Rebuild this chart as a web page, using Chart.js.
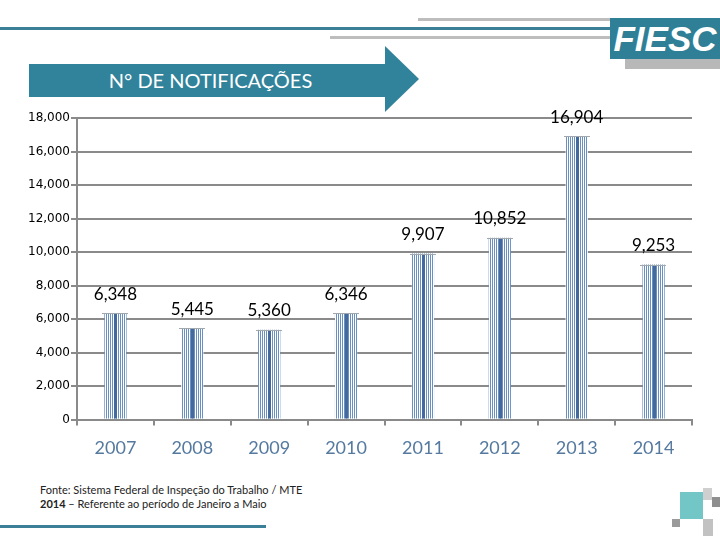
<!DOCTYPE html>
<html>
<head>
<meta charset="utf-8">
<script src="https://cdn.jsdelivr.net/npm/chart.js@4/dist/chart.umd.min.js"></script>
<style>
  body { margin: 0; width: 720px; height: 540px; position: relative; overflow: hidden; background: #fff; font-family: Lato, sans-serif; }
  .abs { position: absolute; }
  #chart { position: absolute; left: 0; top: 0; z-index: 2; }
  .arrow-body { left: 29px; top: 64px; width: 356px; height: 33px; background: #31839b; color: #fff; font-size: 20px; line-height: 33px; text-align: center; padding-left: 7px; box-sizing: border-box; }
  .arrow-head { left: 385px; top: 46px; width: 0; height: 0; border-top: 33.5px solid transparent; border-bottom: 33.5px solid transparent; border-left: 34px solid #31839b; }
  .logo { left: 610px; top: 18px; width: 110px; height: 41px; background: #2f7f97; color: #fff; font: italic bold 35px "Liberation Sans", Arial, sans-serif; line-height: 41px; text-align: center; z-index: 1; }
  .note { left: 40px; top: 483px; font-size: 11px; line-height: 14px; color: #222; }
</style>
</head>
<body>
<div class="abs" style="left:0;top:27px;width:612px;height:3px;background:#3b8096"></div>
<div class="abs" style="left:418px;top:18px;width:194px;height:3px;background:#bdbdbd"></div>
<div class="abs" style="left:330px;top:36px;width:282px;height:3px;background:#bdbdbd"></div>
<div class="abs" style="left:625px;top:59px;width:95px;height:10px;background:#b8b8b8"></div>
<div class="abs logo">FIESC</div>
<div class="abs arrow-body">N° DE NOTIFICAÇÕES</div>
<div class="abs arrow-head"></div>
<div class="abs note">Fonte: Sistema Federal de Inspeção do Trabalho / MTE<br><b>2014</b> – Referente ao período de Janeiro a Maio</div>
<div class="abs" style="left:0;top:525px;width:266px;height:3px;background:#3b8096"></div>
<div class="abs" style="left:680px;top:492px;width:23px;height:27px;background:#72c6c6"></div>
<div class="abs" style="left:672px;top:519px;width:8px;height:8px;background:#9a9a9a"></div>
<div class="abs" style="left:703px;top:488px;width:9px;height:12px;background:#cfcfcf"></div>
<div class="abs" style="left:712px;top:497px;width:8px;height:10px;background:#8f8f8f"></div>
<div class="abs" style="left:703px;top:519px;width:10px;height:17px;background:#c2c2c2"></div>
<canvas id="chart" width="720" height="540"></canvas>
<script>
const years = ['2007', '2008', '2009', '2010', '2011', '2012', '2013', '2014'];
const notificacoes = [6348, 5445, 5360, 6346, 9907, 10852, 16904, 9253];
const yTicks = [0, 2000, 4000, 6000, 8000, 10000, 12000, 14000, 16000, 18000];

const GRID = '#8a8a8a';

// thin vertical stripes like the original bar fill
function stripePattern() {
    const c = document.createElement('canvas');
    c.width = 2;
    c.height = 1;
    const g = c.getContext('2d');
    g.fillStyle = '#fff';
    g.fillRect(0, 0, 2, 1);
    g.fillStyle = '#6a90c0';
    g.fillRect(0, 0, 1, 1);
    return g.createPattern(c, 'repeat');
}

const barExtras = {
    id: 'barExtras',
    afterDatasetsDraw(chart) {
        const ctx = chart.ctx;
        chart.getDatasetMeta(0).data.forEach((bar, i) => {
            const top = Math.round(bar.y);
            const h = bar.base - top;
            const left = Math.round(bar.x - bar.width / 2);
            ctx.save();
            ctx.fillStyle = '#44699c';
            ctx.fillRect(Math.round(bar.x) - 1, top, 3, h);
            ctx.fillStyle = '#a2a8b0';
            ctx.fillRect(left - 2, top, Math.round(bar.width) + 4, 1);
            ctx.fillStyle = '#000';
            ctx.font = '17px Lato';
            ctx.textAlign = 'center';
            ctx.textBaseline = 'middle';
            ctx.fillText(notificacoes[i].toLocaleString('en-US'), bar.x, bar.y - 19);
            ctx.restore();
        });
    }
};

new Chart(document.getElementById('chart'), {
    type: 'bar',
    data: {
        labels: years,
        datasets: [{
            label: 'N° de notificações',
            data: notificacoes,
            backgroundColor: stripePattern(),
            borderWidth: 0,
            barPercentage: 0.29,
            categoryPercentage: 1,
        }],
    },
    options: {
        responsive: false,
        animation: false,
        layout: { padding: { top: 118, right: 28, left: 0, bottom: 0 } },
        plugins: {
            legend: { display: false },
            tooltip: { enabled: false },
        },
        scales: {
            x: {
                afterFit: (s) => { s.height = 120.5; },
                grid: { drawOnChartArea: false, offset: true, tickLength: 6, color: GRID, lineWidth: 2 },
                border: { color: GRID, width: 2 },
                ticks: { color: '#55799f', padding: 12, font: { family: 'Lato', size: 18 } },
            },
            y: {
                min: 0,
                max: 18000,
                afterFit: (s) => { s.width = 77; },
                afterBuildTicks: (s) => { s.ticks = yTicks.map(v => ({ value: v })); },
                grid: { color: GRID, lineWidth: 2, tickLength: 6 },
                border: { color: GRID, width: 2 },
                ticks: {
                    color: '#000',
                    padding: 1,
                    font: { family: 'DejaVu Sans', size: 12 },
                    callback: (v) => v.toLocaleString('en-US'),
                },
            },
        },
    },
    plugins: [barExtras],
});
</script>
</body>
</html>
